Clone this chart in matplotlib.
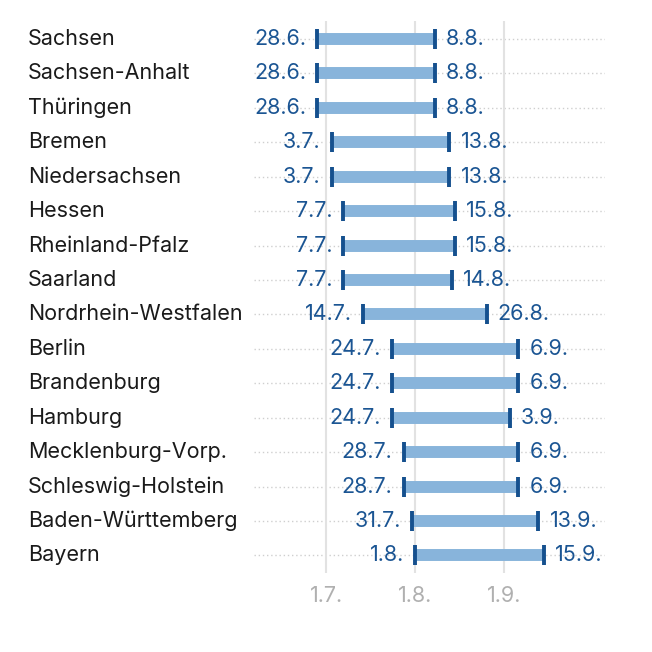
import matplotlib
matplotlib.use('Agg')
import matplotlib.pyplot as plt
import matplotlib.dates as mdates
from matplotlib.transforms import blended_transform_factory
import datetime as dt

plt.rcParams['font.family'] = ['Inter', 'DejaVu Sans']

states = ['Sachsen', 'Sachsen-Anhalt', 'Thüringen', 'Bremen', 'Niedersachsen',
          'Hessen', 'Rheinland-Pfalz', 'Saarland', 'Nordrhein-Westfalen',
          'Berlin', 'Brandenburg', 'Hamburg', 'Mecklenburg-Vorp.',
          'Schleswig-Holstein', 'Baden-Württemberg', 'Bayern']
start = ['28.6.', '28.6.', '28.6.', '3.7.', '3.7.', '7.7.', '7.7.', '7.7.',
         '14.7.', '24.7.', '24.7.', '24.7.', '28.7.', '28.7.', '31.7.', '1.8.']
end = ['8.8.', '8.8.', '8.8.', '13.8.', '13.8.', '15.8.', '15.8.', '14.8.',
       '26.8.', '6.9.', '6.9.', '3.9.', '6.9.', '6.9.', '13.9.', '15.9.']
ticks = ['1.7.', '1.8.', '1.9.']
year = 2025

def to_num(s):
    d, m = s.strip('.').split('.')
    return mdates.date2num(dt.date(year, int(m), int(d)))

xs = [to_num(s) for s in start]
xe = [to_num(s) for s in end]
xt = [to_num(s) for s in ticks]
ys = list(range(len(states)))

bar_col = '#88b4db'
cap_col = '#15508e'
txt_col = '#1b5593'
fs = 15.5

fig = plt.figure(figsize=(6.52, 6.52), dpi=100)
ax = fig.add_axes([254/652, 79/652, 351/652, 552/652])

for y in ys:
    ax.axhline(y, color='#cfcfcf', lw=1, ls=(0, (1, 2)), zorder=0)
for x in xt:
    ax.axvline(x, color='#e2e2e2', lw=1.5, zorder=0)

ax.hlines(ys, xs, xe, color=bar_col, lw=8.6, zorder=2)
ax.plot(xs, ys, '|', color=cap_col, ms=15, mew=2.8, zorder=3)
ax.plot(xe, ys, '|', color=cap_col, ms=15, mew=2.8, zorder=3)

for y, a, b, la, lb in zip(ys, xs, xe, start, end):
    ax.annotate(la, (a, y), xytext=(-8, 0), textcoords='offset points',
                ha='right', va='center', color=txt_col, fontsize=fs)
    ax.annotate(lb, (b, y), xytext=(8, 0), textcoords='offset points',
                ha='left', va='center', color=txt_col, fontsize=fs)

tr = blended_transform_factory(fig.transFigure, ax.transData)
for y, name in zip(ys, states):
    ax.text(28/652, y, name, transform=tr, ha='left', va='center',
            color='#1a1a1a', fontsize=fs)

ax.set_xlim(xt[0] - 25.1, xt[2] + 35.2)
ax.set_ylim(len(states) - 0.49, -0.52)
ax.set_xticks(xt)
ax.set_xticklabels(ticks, color='#b0b0b0', fontsize=fs)
ax.set_yticks([])
ax.tick_params(axis='x', length=0, pad=9)
for sp in ax.spines.values():
    sp.set_visible(False)

fig.savefig('out.png', dpi=100)
